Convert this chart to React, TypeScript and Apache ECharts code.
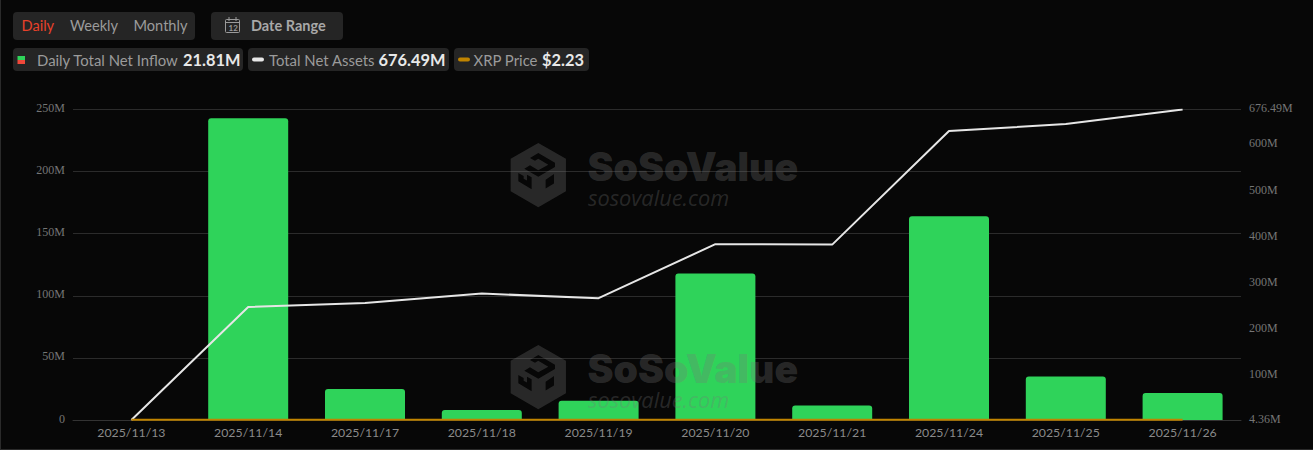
import React, { useEffect, useRef } from "react";
import * as echarts from "echarts";

const categories = ["2025/11/13", "2025/11/14", "2025/11/17", "2025/11/18", "2025/11/19", "2025/11/20", "2025/11/21", "2025/11/24", "2025/11/25", "2025/11/26"];
const netInflow = [0, 243, 25, 8, 15.5, 118, 11.7, 164, 35, 21.81];
const netAssets = [4.36, 249, 257.6, 278, 268, 385, 384, 630, 645, 676.49];
const xrpPrice = [2.25, 2.35, 2.25, 2.15, 2.1, 1.95, 1.95, 2.1, 2.2, 2.23];
const rightTicks = [4.36, 100, 200, 300, 400, 500, 600, 676.49];

const LOGO =
  "M100 15 L183 62 L183 160 L100 208 L17 160 L17 62 Z " +
  "M122 125 L122 152 L147 137 L147 108 Z " +
  "M40 105 L40 130 L80 154 L80 118 L66 110 L66 128 L56 122 L56 114 Z " +
  "M150 74 L100 45 L75 60 L90 68 L100 62 L130 80 L100 97 L75 82 L58 92 L100 116 L150 87 Z";

echarts.graphic.registerShape("sosoLogo", echarts.graphic.extendPath(LOGO as any, {}) as any);

const LABEL = "#9b9b9b";
const VALUE = "#e8e8e8";
const CHIP = "#252525";
const MARK = "rgba(120,120,120,0.3)";
const UI = "Lato, sans-serif";

const tickRich = {
  a: { color: "#757575", fontSize: 12, fontFamily: "'Liberation Serif', serif", padding: [0, 0, 3, 0] },
};

const chip = (x: number, y: number, width: number, height: number) => ({
  type: "rect", shape: { x, y, width, height, r: 4 }, style: { fill: CHIP }, z: 10,
});
const label = (x: number, y: number, text: string, fill: string, font: string) => ({
  type: "text", x, y, style: { text, fill, font, textVerticalAlign: "middle" }, z: 11,
});
const pill = (x: number, y: number, fill: string) => ({
  type: "rect", shape: { x, y, width: 12, height: 4, r: 2 }, style: { fill }, z: 11,
});
const watermark = (dy: number) => [
  { type: "sosoLogo", x: 505, y: 138 + dy, scaleX: 1 / 3, scaleY: 1 / 3, style: { fill: MARK }, z: 9 },
  { type: "text", x: 587.5, y: 166 + dy, style: { text: "SoSoValue", fill: MARK, font: "900 39.1px Inter, sans-serif", textVerticalAlign: "middle" }, z: 9 },
  { type: "text", x: 588, y: 197 + dy, style: { text: "sosovalue.com", fill: MARK, font: "italic 21.8px 'Open Sans', sans-serif", textVerticalAlign: "middle" }, z: 9 },
];

export default function App() {
  const ref = useRef<HTMLDivElement>(null);
  useEffect(() => {
    document.body.style.margin = "0";
    document.body.style.background = "#070707";
    const chart = echarts.init(ref.current!, undefined, { renderer: "svg" });
    chart.setOption({
      animation: false,
      backgroundColor: "#070707",
      grid: { left: 73, right: 72, top: 109.5, bottom: 30 },
      xAxis: {
        type: "category",
        data: categories,
        axisLine: { lineStyle: { color: "#333333" } },
        axisTick: { show: false },
        axisLabel: { color: "#8a8a8a", fontSize: 12.3, fontFamily: "Lato, sans-serif", margin: 6, interval: 0 },
      },
      yAxis: [
        {
          type: "value", min: 0, max: 250, interval: 50,
          axisLine: { show: false }, axisTick: { show: false },
          splitLine: { lineStyle: { color: "#2b2b2b" } },
          axisLabel: {
            margin: 8, rich: tickRich,
            formatter: (v: number) => (v === 0 ? "{a|0}" : `{a|${v}M}`),
          },
        },
        {
          type: "value", min: 4.36, max: 676.49, position: "right",
          axisLine: { show: false }, axisTick: { show: false }, splitLine: { show: false },
          axisLabel: {
            margin: 8, rich: tickRich,
            customValues: rightTicks,
            formatter: (v: number) => `{a|${v}M}`,
          },
        },
        { type: "value", min: 0, max: 3000, show: false },
      ],
      series: [
        { type: "bar", data: netInflow, yAxisIndex: 0, barWidth: 80, itemStyle: { color: "#2fd35a", borderRadius: [3, 3, 0, 0] }, z: 2 },
        { type: "line", data: netAssets, yAxisIndex: 1, showSymbol: false, lineStyle: { color: "#e6e6e6", width: 2 }, z: 20 },
        { type: "line", data: xrpPrice, yAxisIndex: 2, showSymbol: false, lineStyle: { color: "#c08400", width: 2 }, z: 21 },
      ],
      graphic: {
        elements: [
          { type: "line", shape: { x1: 0.5, y1: 0, x2: 0.5, y2: 450 }, style: { stroke: "#2a2a2a", lineWidth: 1 } },
          { type: "line", shape: { x1: 0, y1: 449.5, x2: 1313, y2: 449.5 }, style: { stroke: "#2a2a2a", lineWidth: 1 } },
          ...watermark(0),
          ...watermark(202),
          chip(13, 12, 182, 28),
          label(21.5, 25.5, "Daily", "#e8412a", `14.6px ${UI}`),
          label(70, 25.5, "Weekly", LABEL, `14.6px ${UI}`),
          label(133.5, 25.5, "Monthly", LABEL, `14.6px ${UI}`),
          chip(211, 12, 132, 28),
          { type: "rect", shape: { x: 225.5, y: 19.5, width: 14, height: 13, r: 1 }, style: { fill: "none", stroke: LABEL, lineWidth: 1 }, z: 11 },
          { type: "line", shape: { x1: 225, y1: 22.5, x2: 240, y2: 22.5 }, style: { stroke: LABEL, lineWidth: 1 }, z: 11 },
          { type: "line", shape: { x1: 229, y1: 17, x2: 229, y2: 21 }, style: { stroke: LABEL, lineWidth: 1 }, z: 11 },
          { type: "line", shape: { x1: 236, y1: 17, x2: 236, y2: 21 }, style: { stroke: LABEL, lineWidth: 1 }, z: 11 },
          label(228.5, 28, "12", LABEL, `bold 8px ${UI}`),
          label(251, 25.5, "Date Range", "#a8a8a8", `bold 14.5px ${UI}`),
          chip(13, 48, 230, 23),
          { type: "rect", shape: { x: 17.5, y: 56, width: 7.5, height: 4 }, style: { fill: "#2fd35a" }, z: 11 },
          { type: "rect", shape: { x: 17.5, y: 60, width: 7.5, height: 4 }, style: { fill: "#f0483a" }, z: 11 },
          label(37, 59.5, "Daily Total Net Inflow", LABEL, `14.9px ${UI}`),
          label(183, 59.5, "21.81M", VALUE, `bold 16.4px ${UI}`),
          chip(248, 48, 201, 23),
          pill(252, 57.5, "#e8e8e8"),
          label(269, 59.5, "Total Net Assets", LABEL, `14.9px ${UI}`),
          label(378.5, 59.5, "676.49M", VALUE, `bold 16.4px ${UI}`),
          chip(454, 48, 135, 23),
          pill(458, 57.5, "#c08400"),
          label(473.5, 59.5, "XRP Price", LABEL, `14.9px ${UI}`),
          label(542, 59.5, "$2.23", VALUE, `bold 16.4px ${UI}`),
        ],
      },
    });
    return () => chart.dispose();
  }, []);
  return <div ref={ref} style={{ width: 1313, height: 450 }} />;
}
